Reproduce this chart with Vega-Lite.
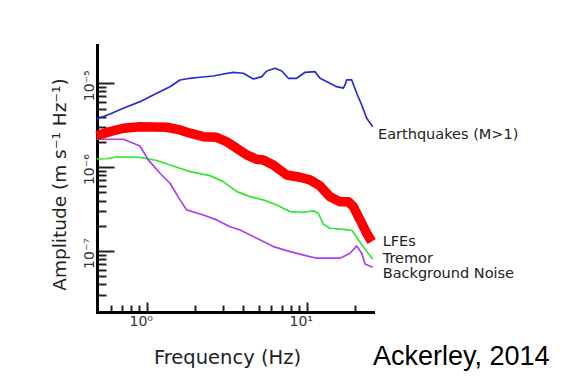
{
  "$schema": "https://vega.github.io/schema/vega-lite/v6.json",
  "width": 276,
  "height": 267,
  "autosize": {"type": "none"},
  "padding": {"left": 97, "top": 45, "right": 197, "bottom": 65},
  "background": "white",
  "config": {"view": {"stroke": null}, "font": "DejaVu Sans"},
  "datasets": {
    "curves": [
      {"series": "Earthquakes", "freq": 0.487, "amp": 3.75e-6},
      {"series": "Earthquakes", "freq": 0.590, "amp": 4.31e-6},
      {"series": "Earthquakes", "freq": 0.714, "amp": 5.04e-6},
      {"series": "Earthquakes", "freq": 0.908, "amp": 6.04e-6},
      {"series": "Earthquakes", "freq": 1.155, "amp": 7.60e-6},
      {"series": "Earthquakes", "freq": 1.398, "amp": 9.11e-6},
      {"series": "Earthquakes", "freq": 1.615, "amp": 1.095e-5},
      {"series": "Earthquakes", "freq": 1.865, "amp": 1.147e-5},
      {"series": "Earthquakes", "freq": 2.154, "amp": 1.179e-5},
      {"series": "Earthquakes", "freq": 2.608, "amp": 1.222e-5},
      {"series": "Earthquakes", "freq": 3.011, "amp": 1.291e-5},
      {"series": "Earthquakes", "freq": 3.477, "amp": 1.352e-5},
      {"series": "Earthquakes", "freq": 4.016, "amp": 1.316e-5},
      {"series": "Earthquakes", "freq": 4.638, "amp": 1.125e-5},
      {"series": "Earthquakes", "freq": 5.233, "amp": 1.199e-5},
      {"series": "Earthquakes", "freq": 5.623, "amp": 1.402e-5},
      {"series": "Earthquakes", "freq": 6.337, "amp": 1.509e-5},
      {"series": "Earthquakes", "freq": 6.982, "amp": 1.402e-5},
      {"series": "Earthquakes", "freq": 7.674, "amp": 1.147e-5},
      {"series": "Earthquakes", "freq": 8.660, "amp": 1.147e-5},
      {"series": "Earthquakes", "freq": 9.759, "amp": 1.352e-5},
      {"series": "Earthquakes", "freq": 11.27, "amp": 1.375e-5},
      {"series": "Earthquakes", "freq": 12.11, "amp": 1.147e-5},
      {"series": "Earthquakes", "freq": 13.98, "amp": 1.0e-5},
      {"series": "Earthquakes", "freq": 15.40, "amp": 9.11e-6},
      {"series": "Earthquakes", "freq": 16.94, "amp": 8.75e-6},
      {"series": "Earthquakes", "freq": 17.35, "amp": 9.54e-6},
      {"series": "Earthquakes", "freq": 17.78, "amp": 1.095e-5},
      {"series": "Earthquakes", "freq": 19.11, "amp": 1.095e-5},
      {"series": "Earthquakes", "freq": 20.54, "amp": 7.60e-6},
      {"series": "Earthquakes", "freq": 22.07, "amp": 5.51e-6},
      {"series": "Earthquakes", "freq": 23.71, "amp": 3.83e-6},
      {"series": "Earthquakes", "freq": 25.85, "amp": 3.04e-6},
      {"series": "LFEs", "freq": 0.487, "amp": 2.375e-6},
      {"series": "LFEs", "freq": 0.590, "amp": 2.65e-6},
      {"series": "LFEs", "freq": 0.714, "amp": 2.91e-6},
      {"series": "LFEs", "freq": 0.908, "amp": 3.04e-6},
      {"series": "LFEs", "freq": 1.334, "amp": 2.99e-6},
      {"series": "LFEs", "freq": 1.615, "amp": 2.78e-6},
      {"series": "LFEs", "freq": 1.865, "amp": 2.54e-6},
      {"series": "LFEs", "freq": 2.258, "amp": 2.31e-6},
      {"series": "LFEs", "freq": 2.738, "amp": 2.27e-6},
      {"series": "LFEs", "freq": 3.162, "amp": 2.01e-6},
      {"series": "LFEs", "freq": 3.652, "amp": 1.68e-6},
      {"series": "LFEs", "freq": 4.217, "amp": 1.40e-6},
      {"series": "LFEs", "freq": 4.870, "amp": 1.24e-6},
      {"series": "LFEs", "freq": 5.355, "amp": 1.22e-6},
      {"series": "LFEs", "freq": 6.183, "amp": 1.06e-6},
      {"series": "LFEs", "freq": 7.499, "amp": 8.07e-7},
      {"series": "LFEs", "freq": 9.082, "amp": 7.58e-7},
      {"series": "LFEs", "freq": 10.48, "amp": 7.04e-7},
      {"series": "LFEs", "freq": 12.11, "amp": 5.97e-7},
      {"series": "LFEs", "freq": 13.98, "amp": 4.45e-7},
      {"series": "LFEs", "freq": 16.15, "amp": 3.88e-7},
      {"series": "LFEs", "freq": 18.20, "amp": 3.88e-7},
      {"series": "LFEs", "freq": 19.56, "amp": 3.38e-7},
      {"series": "LFEs", "freq": 21.54, "amp": 2.35e-7},
      {"series": "LFEs", "freq": 23.71, "amp": 1.63e-7},
      {"series": "LFEs", "freq": 25.48, "amp": 1.30e-7},
      {"series": "Tremor", "freq": 0.487, "amp": 1.25e-6},
      {"series": "Tremor", "freq": 0.562, "amp": 1.26e-6},
      {"series": "Tremor", "freq": 0.649, "amp": 1.33e-6},
      {"series": "Tremor", "freq": 0.908, "amp": 1.31e-6},
      {"series": "Tremor", "freq": 1.155, "amp": 1.20e-6},
      {"series": "Tremor", "freq": 1.398, "amp": 1.06e-6},
      {"series": "Tremor", "freq": 1.865, "amp": 8.84e-7},
      {"series": "Tremor", "freq": 2.487, "amp": 7.92e-7},
      {"series": "Tremor", "freq": 3.011, "amp": 6.72e-7},
      {"series": "Tremor", "freq": 3.652, "amp": 5.11e-7},
      {"series": "Tremor", "freq": 4.422, "amp": 4.45e-7},
      {"series": "Tremor", "freq": 5.355, "amp": 4.07e-7},
      {"series": "Tremor", "freq": 6.494, "amp": 3.54e-7},
      {"series": "Tremor", "freq": 7.864, "amp": 2.95e-7},
      {"series": "Tremor", "freq": 9.523, "amp": 2.90e-7},
      {"series": "Tremor", "freq": 11.0, "amp": 3.01e-7},
      {"series": "Tremor", "freq": 11.82, "amp": 2.82e-7},
      {"series": "Tremor", "freq": 12.70, "amp": 2.09e-7},
      {"series": "Tremor", "freq": 13.98, "amp": 1.87e-7},
      {"series": "Tremor", "freq": 16.94, "amp": 1.81e-7},
      {"series": "Tremor", "freq": 19.19, "amp": 1.76e-7},
      {"series": "Tremor", "freq": 21.02, "amp": 1.36e-7},
      {"series": "Tremor", "freq": 23.71, "amp": 9.89e-8},
      {"series": "Tremor", "freq": 25.85, "amp": 8.05e-8},
      {"series": "Background Noise", "freq": 0.487, "amp": 2.15e-6},
      {"series": "Background Noise", "freq": 0.714, "amp": 2.15e-6},
      {"series": "Background Noise", "freq": 0.908, "amp": 1.79e-6},
      {"series": "Background Noise", "freq": 1.023, "amp": 1.22e-6},
      {"series": "Background Noise", "freq": 1.211, "amp": 8.46e-7},
      {"series": "Background Noise", "freq": 1.398, "amp": 6.43e-7},
      {"series": "Background Noise", "freq": 1.615, "amp": 4.07e-7},
      {"series": "Background Noise", "freq": 1.778, "amp": 3.09e-7},
      {"series": "Background Noise", "freq": 2.258, "amp": 2.69e-7},
      {"series": "Background Noise", "freq": 2.738, "amp": 2.35e-7},
      {"series": "Background Noise", "freq": 3.316, "amp": 1.95e-7},
      {"series": "Background Noise", "freq": 3.830, "amp": 1.78e-7},
      {"series": "Background Noise", "freq": 4.870, "amp": 1.42e-7},
      {"series": "Background Noise", "freq": 6.183, "amp": 1.13e-7},
      {"series": "Background Noise", "freq": 7.864, "amp": 9.83e-8},
      {"series": "Background Noise", "freq": 10.0, "amp": 8.74e-8},
      {"series": "Background Noise", "freq": 11.55, "amp": 8.21e-8},
      {"series": "Background Noise", "freq": 16.15, "amp": 8.21e-8},
      {"series": "Background Noise", "freq": 18.65, "amp": 9.41e-8},
      {"series": "Background Noise", "freq": 20.54, "amp": 1.15e-7},
      {"series": "Background Noise", "freq": 22.07, "amp": 9.41e-8},
      {"series": "Background Noise", "freq": 23.14, "amp": 7.02e-8},
      {"series": "Background Noise", "freq": 25.85, "amp": 6.41e-8}
    ],
    "labels": [
      {"label": "Earthquakes (M>1)", "freq": 27.9, "amp": 2.42e-6},
      {"label": "LFEs", "freq": 29.85, "amp": 1.27e-7},
      {"label": "Tremor", "freq": 29.85, "amp": 8.05e-8},
      {"label": "Background Noise", "freq": 29.85, "amp": 5.25e-8}
    ],
    "credit": [
      {"label": "Ackerley, 2014", "freq": 25.97, "amp": 4.39e-9}
    ]
  },
  "layer": [
    {
      "data": {"name": "curves"},
      "transform": [{"filter": "datum.series != 'LFEs'"}],
      "mark": {"type": "line", "strokeJoin": "round", "strokeWidth": 1.7},
      "encoding": {
        "x": {
          "field": "freq",
          "type": "quantitative",
          "scale": {"type": "log", "domain": [0.489, 25.96], "nice": false},
          "axis": {
            "title": "Frequency (Hz)",
            "titleFont": "DejaVu Sans",
            "titleFontSize": 19.5,
            "titleFontWeight": "normal",
            "titleColor": "#222",
            "titleX": 130,
            "titleY": 51,
            "titleAlign": "center",
            "titleBaseline": "alphabetic",
            "values": [0.6, 0.7, 0.8, 0.9, 1, 2, 3, 4, 5, 6, 7, 8, 9, 10, 20],
            "labelExpr": "datum.value == 1 ? '10⁰' : datum.value == 10 ? '10¹' : ''",
            "labelFont": "DejaVu Sans",
            "labelFontSize": 14,
            "labelColor": "#333",
            "labelPadding": 12,
            "labelOffset": -6,
            "labelOverlap": false,
            "labelFlush": false,
            "tickSize": {"condition": {"test": "datum.value == 1 || datum.value == 10", "value": -10}, "value": -7},
            "tickWidth": 2,
            "tickColor": "#222",
            "domainColor": "#000",
            "domainWidth": 3,
            "domainCap": "square",
            "grid": false
          }
        },
        "y": {
          "field": "amp",
          "type": "quantitative",
          "scale": {"type": "log", "domain": [1.875e-8, 2.86e-5], "nice": false},
          "axis": {
            "title": "Amplitude (m s⁻¹ Hz⁻¹)",
            "titleFont": "DejaVu Sans",
            "titleFontSize": 18.5,
            "titleFontWeight": "normal",
            "titleColor": "#222",
            "titleAngle": 270,
            "titleX": -38,
            "titleY": 139,
            "titleAlign": "center",
            "titleBaseline": "middle",
            "values": [3e-8, 4e-8, 5e-8, 6e-8, 7e-8, 8e-8, 9e-8, 1e-7, 2e-7, 3e-7, 4e-7, 5e-7, 6e-7, 7e-7, 8e-7, 9e-7, 1e-6, 2e-6, 3e-6, 4e-6, 5e-6, 6e-6, 7e-6, 8e-6, 9e-6, 1e-5],
            "labelExpr": "datum.value == 1e-5 ? '10⁻⁵' : datum.value == 1e-6 ? '10⁻⁶' : datum.value == 1e-7 ? '10⁻⁷' : ''",
            "labelFont": "DejaVu Sans",
            "labelFontSize": 14,
            "labelColor": "#333",
            "labelAngle": 270,
            "labelAlign": "center",
            "labelBaseline": "bottom",
            "labelPadding": 18,
            "labelOffset": 2,
            "labelOverlap": false,
            "labelFlush": false,
            "tickSize": {"condition": {"test": "datum.value == 1e-5 || datum.value == 1e-6 || datum.value == 1e-7", "value": -17}, "value": -9},
            "tickWidth": 2,
            "tickColor": "#222",
            "domainColor": "#000",
            "domainWidth": 3,
            "domainCap": "square",
            "grid": false
          }
        },
        "color": {
          "field": "series",
          "type": "nominal",
          "scale": {"domain": ["Earthquakes", "LFEs", "Tremor", "Background Noise"], "range": ["#2a2ad4", "#ff0000", "#33e633", "#aa3ff0"]},
          "legend": null
        }
      }
    },
    {
      "data": {"name": "curves"},
      "transform": [{"filter": "datum.series == 'LFEs'"}],
      "mark": {"type": "line", "strokeJoin": "round", "strokeWidth": 9.5},
      "encoding": {
        "x": {"field": "freq", "type": "quantitative"},
        "y": {"field": "amp", "type": "quantitative"},
        "color": {"field": "series", "type": "nominal", "legend": null}
      }
    },
    {
      "data": {"name": "labels"},
      "mark": {"type": "text", "align": "left", "baseline": "middle", "font": "DejaVu Sans", "fontSize": 14.5, "color": "#222"},
      "encoding": {
        "x": {"field": "freq", "type": "quantitative"},
        "y": {"field": "amp", "type": "quantitative"},
        "text": {"field": "label", "type": "nominal"}
      }
    },
    {
      "data": {"name": "credit"},
      "mark": {"type": "text", "align": "left", "baseline": "alphabetic", "font": "Liberation Sans", "fontSize": 27, "color": "#000"},
      "encoding": {
        "x": {"field": "freq", "type": "quantitative"},
        "y": {"field": "amp", "type": "quantitative"},
        "text": {"field": "label", "type": "nominal"}
      }
    }
  ]
}
